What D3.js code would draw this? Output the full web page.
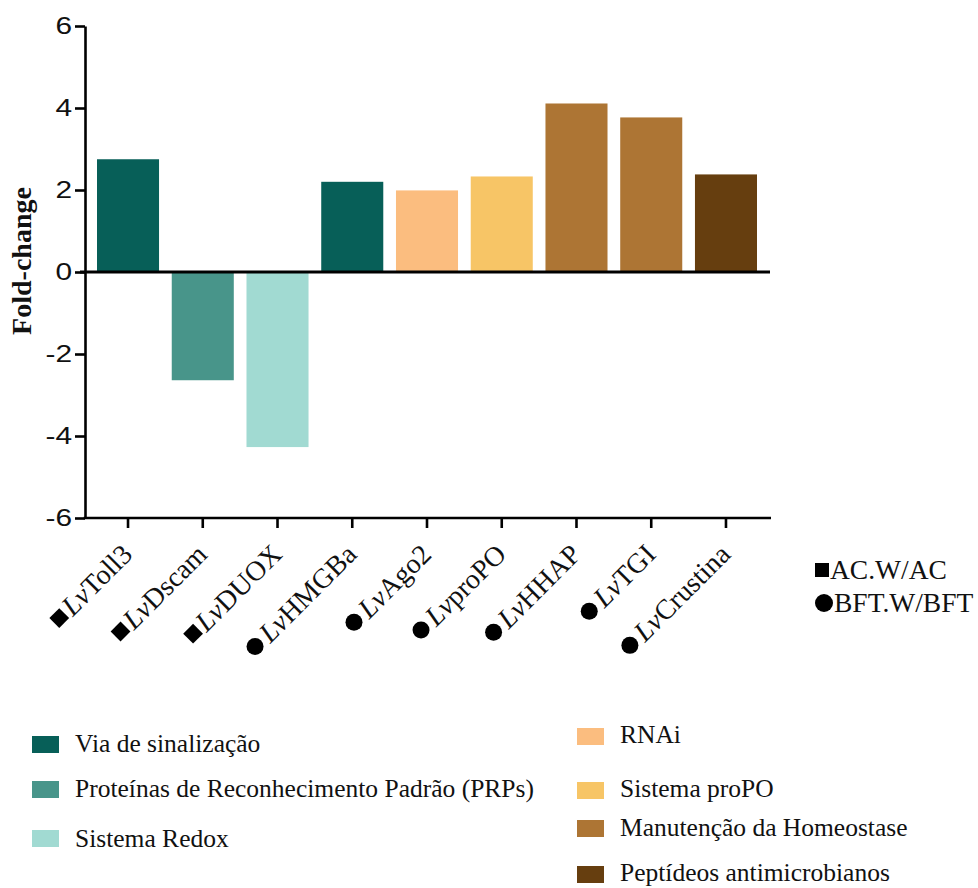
<!DOCTYPE html>
<html>
<head>
<meta charset="utf-8">
<script src="https://cdn.jsdelivr.net/npm/d3@7"></script>
<style>
  html, body { margin: 0; padding: 0; background: #fff; }
  svg { display: block; }
</style>
</head>
<body>
<div id="chart"></div>
<script>
// Gene expression fold-change by functional group
const genes = ["Toll3", "Dscam", "DUOX", "HMGBa", "Ago2", "proPO", "HHAP", "TGI", "Crustina"];
const geneSeries = ["AC.W/AC", "AC.W/AC", "AC.W/AC", "BFT.W/BFT", "BFT.W/BFT", "BFT.W/BFT", "BFT.W/BFT", "BFT.W/BFT", "BFT.W/BFT"];
const foldChange = [2.75, -2.64, -4.27, 2.20, 1.99, 2.33, 4.11, 3.77, 2.38];
const geneGroup = [
  "Via de sinalização",
  "Proteínas de Reconhecimento Padrão (PRPs)",
  "Sistema Redox",
  "Via de sinalização",
  "RNAi",
  "Sistema proPO",
  "Manutenção da Homeostase",
  "Manutenção da Homeostase",
  "Peptídeos antimicrobianos"
];
const groupNames = [
  "Via de sinalização",
  "Proteínas de Reconhecimento Padrão (PRPs)",
  "Sistema Redox",
  "RNAi",
  "Sistema proPO",
  "Manutenção da Homeostase",
  "Peptídeos antimicrobianos"
];
const groupColors = ["#075f58", "#48958a", "#a1dad2", "#fbbd7f", "#f7c566", "#ad7534", "#663e0f"];
const yTicks = [-6, -4, -2, 0, 2, 4, 6];
const seriesNames = ["AC.W/AC", "BFT.W/BFT"];
const seriesSymbols = [d3.symbolSquare, d3.symbolCircle];

const W = 978, H = 888;
const SERIF = "'Liberation Serif', 'Times New Roman', serif";
const SANS = "'Liberation Sans', Arial, sans-serif";

const svg = d3.select("#chart").append("svg")
  .attr("width", W).attr("height", H);

const axisX = 85, axisRight = 771;
const y = d3.scaleLinear().domain([-6, 6]).range([518, 26]);
const x = d3.scaleBand().domain(genes).range([97, 757]).paddingInner(0.17).paddingOuter(0);
const color = d3.scaleOrdinal().domain(groupNames).range(groupColors);
const symbolOf = d3.scaleOrdinal().domain(seriesNames).range(seriesSymbols);
// square side 14 px, circle diameter 17 px
const symbolArea = s => s === "AC.W/AC" ? 14 * 14 : Math.PI * 8.5 * 8.5;

// bars
svg.append("g").selectAll("rect")
  .data(genes.map((g, i) => ({ g, v: foldChange[i], grp: geneGroup[i] })))
  .join("rect")
  .attr("x", d => x(d.g))
  .attr("width", x.bandwidth())
  .attr("y", d => y(Math.max(0, d.v)))
  .attr("height", d => Math.abs(y(d.v) - y(0)))
  .attr("fill", d => color(d.grp));

// y axis
const yAxis = svg.append("g")
  .attr("transform", `translate(${axisX},0)`)
  .call(d3.axisLeft(y).tickValues(yTicks).tickSize(10).tickSizeOuter(0).tickFormat(d => String(d)));
yAxis.select(".domain").attr("stroke", "#000").attr("stroke-width", 2.6);
yAxis.selectAll(".tick line").attr("stroke", "#000").attr("stroke-width", 2.6);
yAxis.selectAll(".tick text")
  .attr("font-family", SANS).attr("font-size", 23).attr("fill", "#111")
  .attr("x", 0).attr("dy", null).attr("dominant-baseline", "central")
  .attr("text-anchor", "end")
  .attr("transform", "translate(-13,0) scale(1.3,1)");

// zero line
svg.append("line")
  .attr("x1", axisX - 5).attr("x2", axisRight - 1)
  .attr("y1", y(0)).attr("y2", y(0))
  .attr("stroke", "#000").attr("stroke-width", 2.8);

// x axis at bottom
const xAxis = svg.append("g")
  .attr("transform", `translate(0,${y(-6)})`)
  .call(d3.axisBottom(x).tickSize(10).tickSizeOuter(0).tickFormat(""));
xAxis.select(".domain").attr("d", `M${axisX - 1.3},0H${axisRight}`)
  .attr("stroke", "#000").attr("stroke-width", 2.6);
xAxis.selectAll(".tick line").attr("stroke", "#000").attr("stroke-width", 2.6);

// rotated gene labels with series symbol in front
const labelG = svg.append("g").selectAll("g")
  .data(genes.map((g, i) => ({ g, s: geneSeries[i] })))
  .join("g")
  .attr("transform", d => `translate(${x(d.g) + x.bandwidth() / 2 + 6},556) rotate(-45)`);
const labelText = labelG.append("text")
  .attr("text-anchor", "end")
  .attr("font-family", SERIF).attr("font-size", 28).attr("fill", "#111");
labelText.append("tspan").attr("font-style", "italic").text("Lv");
labelText.append("tspan").text(d => d.g);
labelG.each(function (d) {
  const g = d3.select(this);
  const w = g.select("text").node().getComputedTextLength();
  const gap = d.s === "AC.W/AC" ? 3 + 7 : 4 + 8.5;
  g.append("path")
    .attr("d", d3.symbol(symbolOf(d.s), symbolArea(d.s))())
    .attr("transform", `translate(${-w - gap},-9)`)
    .attr("fill", "#000");
});

// y axis title
svg.append("text")
  .attr("transform", `translate(31,${y(0) - 11}) rotate(-90)`)
  .attr("text-anchor", "middle")
  .attr("font-family", SERIF).attr("font-weight", "bold").attr("font-size", 28)
  .attr("fill", "#111")
  .text("Fold-change");

// series key
const seriesKey = svg.append("g");
seriesNames.forEach((s, i) => {
  const base = 579 + i * 33;
  const r = i === 0 ? 7 : 9;
  seriesKey.append("path")
    .attr("d", d3.symbol(seriesSymbols[i], i === 0 ? 14 * 14 : Math.PI * 9 * 9)())
    .attr("transform", `translate(${815 + r},${base - 9})`)
    .attr("fill", "#000");
  seriesKey.append("text")
    .attr("x", 815 + 2 * r + 1).attr("y", base)
    .attr("font-family", SERIF).attr("font-size", 27.5).attr("fill", "#111")
    .text(s);
});

// group legend, two columns
const legendLeft = [
  { name: groupNames[0], top: 736, base: 752 },
  { name: groupNames[1], top: 781, base: 797 },
  { name: groupNames[2], top: 830, base: 847 }
];
const legendRight = [
  { name: groupNames[3], top: 728, base: 743 },
  { name: groupNames[4], top: 782, base: 797 },
  { name: groupNames[5], top: 820, base: 836 },
  { name: groupNames[6], top: 866, base: 881 }
];
function drawLegend(items, sx, tx) {
  const g = svg.append("g");
  items.forEach(it => {
    g.append("rect").attr("x", sx).attr("y", it.top).attr("width", 27).attr("height", 17)
      .attr("fill", color(it.name));
    g.append("text").attr("x", tx).attr("y", it.base)
      .attr("font-family", SERIF).attr("font-size", 25.5).attr("fill", "#111")
      .text(it.name);
  });
}
drawLegend(legendLeft, 32, 75);
drawLegend(legendRight, 577, 620);
</script>
</body>
</html>
